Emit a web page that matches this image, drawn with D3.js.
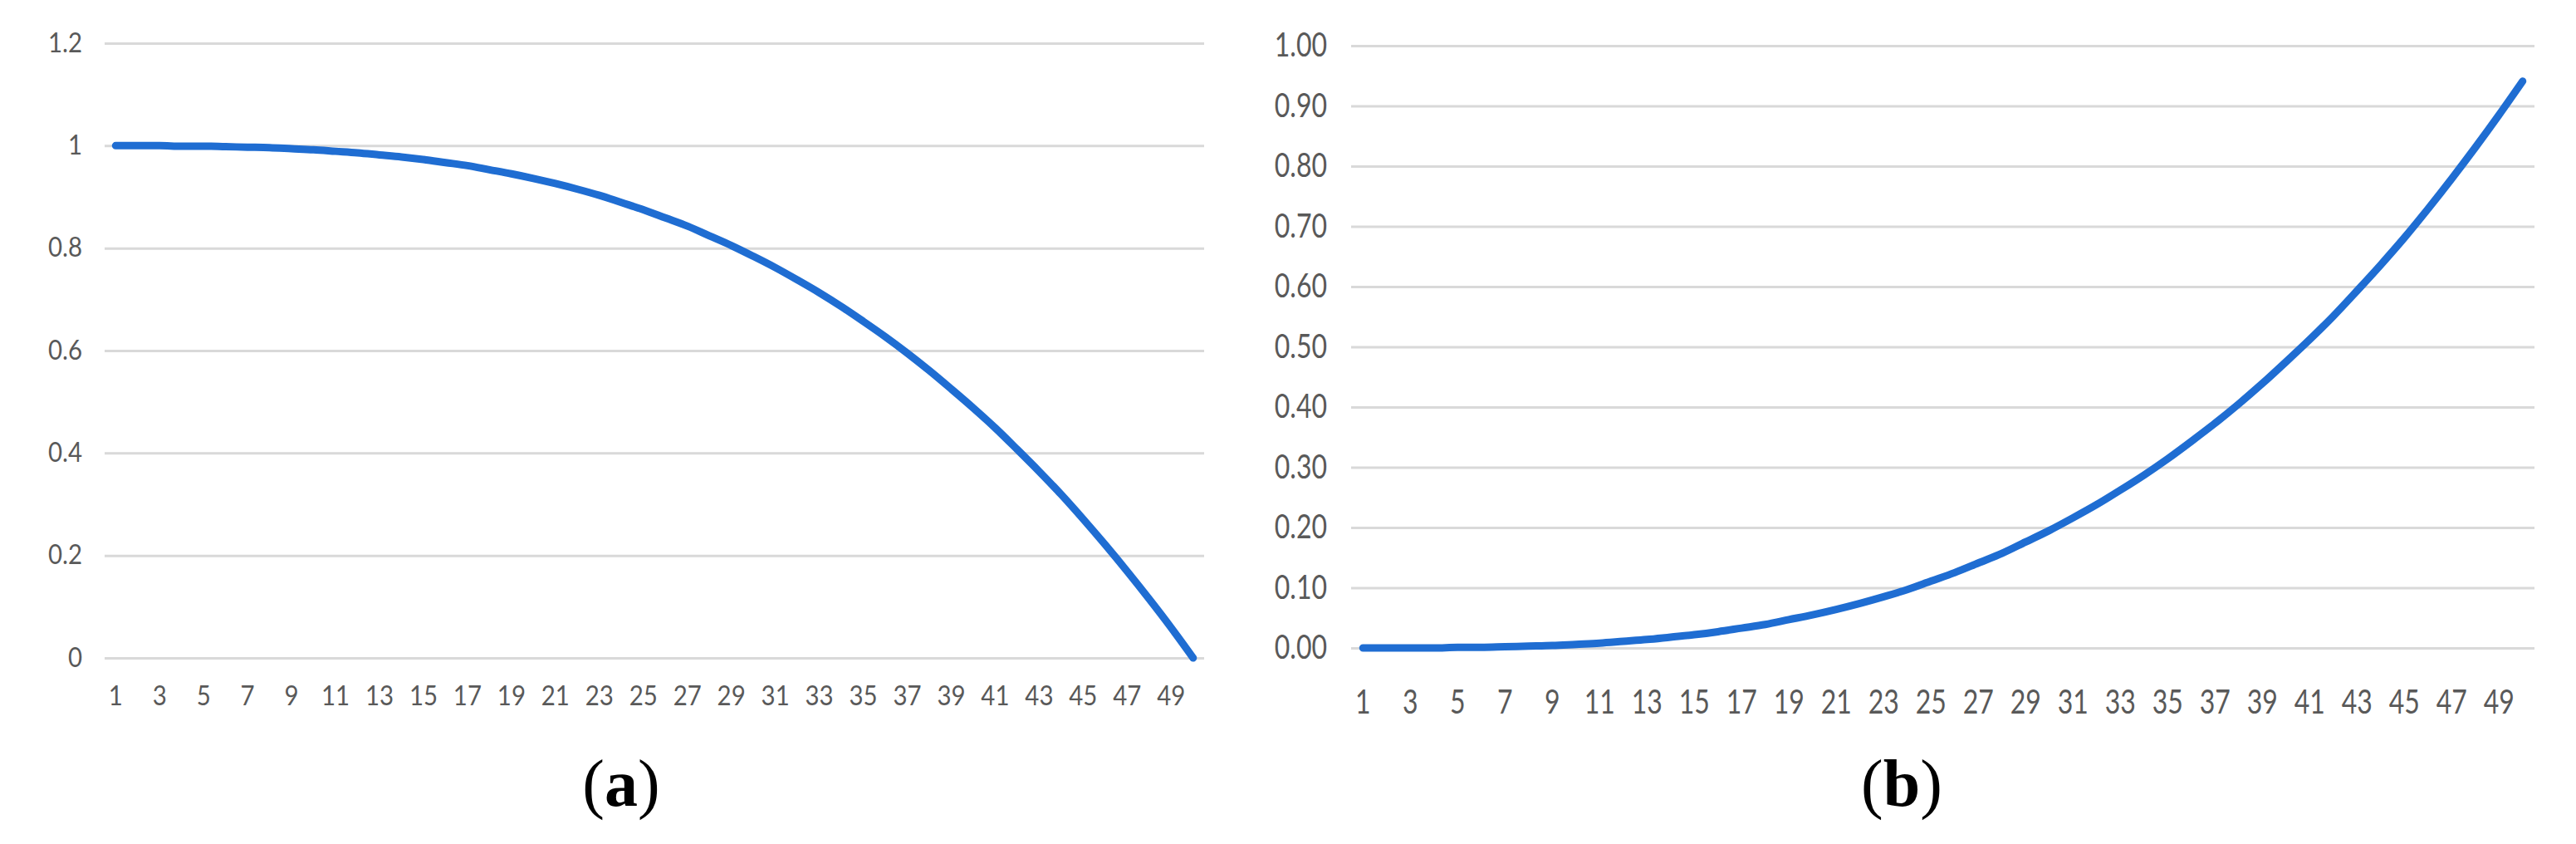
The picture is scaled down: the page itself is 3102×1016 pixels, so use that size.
<!DOCTYPE html>
<html lang="en">

<head>
	<meta charset="utf-8">
	<title>Curves (a) and (b)</title>
	<script src="https://d3js.org/d3.v7.min.js"></script>
	<style>
		body { margin: 0; background: #fff; }
		.tick text { fill: #595959; font-family: Lato, "Open Sans", sans-serif; }
		.grid line { stroke: #d9d9d9; stroke-width: 3; }
	</style>
</head>

<body>

	<svg id="chart" width="3102" height="1016"></svg>

	<script type="text/javascript">
		// categories 1..50 on the x axis
		var categories = [1, 2, 3, 4, 5, 6, 7, 8, 9, 10, 11, 12, 13, 14, 15, 16, 17, 18, 19, 20,
			21, 22, 23, 24, 25, 26, 27, 28, 29, 30, 31, 32, 33, 34, 35, 36, 37, 38, 39, 40,
			41, 42, 43, 44, 45, 46, 47, 48, 49, 50];
		var xTickLabels = [1, 3, 5, 7, 9, 11, 13, 15, 17, 19, 21, 23, 25, 27, 29, 31, 33, 35, 37, 39, 41, 43, 45, 47, 49];

		// (a) falling curve
		var seriesA = [1.000, 1.000, 1.000, 0.999, 0.999, 0.998, 0.997, 0.996, 0.994, 0.992,
			0.989, 0.986, 0.982, 0.978, 0.973, 0.967, 0.961, 0.953, 0.945, 0.936,
			0.926, 0.915, 0.903, 0.889, 0.875, 0.859, 0.843, 0.824, 0.805, 0.784,
			0.762, 0.738, 0.713, 0.686, 0.657, 0.627, 0.595, 0.561, 0.525, 0.488,
			0.449, 0.407, 0.364, 0.319, 0.271, 0.221, 0.169, 0.115, 0.059, 0.000];
		var aYTicks = [0, 0.2, 0.4, 0.6, 0.8, 1, 1.2];
		var aYTickLabels = ["0", "0.2", "0.4", "0.6", "0.8", "1", "1.2"];

		// (b) rising curve
		var seriesB = [0.000, 0.000, 0.000, 0.000, 0.001, 0.001, 0.002, 0.003, 0.004, 0.006,
			0.008, 0.011, 0.014, 0.018, 0.022, 0.027, 0.033, 0.039, 0.047, 0.055,
			0.064, 0.074, 0.085, 0.097, 0.111, 0.125, 0.141, 0.157, 0.176, 0.195,
			0.216, 0.238, 0.262, 0.287, 0.314, 0.343, 0.373, 0.405, 0.439, 0.475,
			0.512, 0.551, 0.593, 0.636, 0.681, 0.729, 0.779, 0.831, 0.885, 0.941];
		var bYTicks = [0, 0.1, 0.2, 0.3, 0.4, 0.5, 0.6, 0.7, 0.8, 0.9, 1.0];
		var bYTickLabels = ["0.00", "0.10", "0.20", "0.30", "0.40", "0.50", "0.60", "0.70", "0.80", "0.90", "1.00"];

		var captions = ["a", "b"];

		var svg = d3.select("#chart");
		svg.append("rect").attr("width", 3102).attr("height", 1016).attr("fill", "white");

		//******************Panels*********************//
		var panels = [
			{ data: seriesA, ticks: aYTicks, labels: aYTickLabels, left: 126, right: 1450, top: 52, bottom: 792,
				yMax: 1.2, pad: 27, xLabelOff: 46, fontSize: 32, squeeze: 0.92, caption: captions[0], capX: 748 },
			{ data: seriesB, ticks: bYTicks, labels: bYTickLabels, left: 1627, right: 3052, top: 55, bottom: 780,
				yMax: 1.0, pad: 29, xLabelOff: 65, fontSize: 40, squeeze: 0.8, caption: captions[1], capX: 2290 }
		];

		panels.forEach(function (p) {
			var x = d3.scaleBand()
				.domain(categories)
				.range([p.left, p.right]);
			var y = d3.scaleLinear()
				.domain([0, p.yMax])
				.range([p.bottom, p.top]);

			// y axis + gridlines
			var yAxis = svg.append("g")
				.attr("class", "grid")
				.attr("transform", "translate(" + p.left + ",0)")
				.call(d3.axisLeft(y)
					.tickValues(p.ticks)
					.tickSize(-(p.right - p.left))
					.tickPadding(p.pad)
					.tickFormat(function (d, i) { return p.labels[i]; }));
			yAxis.select(".domain").remove();
			yAxis.selectAll("text")
				.attr("font-size", p.fontSize)
				.attr("x", -p.pad / p.squeeze)
				.attr("transform", "scale(" + p.squeeze + ",1)");

			// x axis labels (every other category)
			var xAxis = svg.append("g")
				.attr("transform", "translate(0," + p.bottom + ")")
				.call(d3.axisBottom(x)
					.tickValues(xTickLabels)
					.tickSize(0));
			xAxis.select(".domain").remove();
			xAxis.selectAll("text")
				.attr("font-size", p.fontSize)
				.attr("y", p.xLabelOff)
				.attr("dy", "0.35em")
				.attr("transform", "scale(" + p.squeeze + ",1)");

			// the curve
			var line = d3.line()
				.x(function (d, i) { return x(categories[i]) + x.bandwidth() / 2; })
				.y(function (d) { return y(d); })
				.curve(d3.curveMonotoneX);

			svg.append("path")
				.datum(p.data)
				.attr("d", line)
				.attr("fill", "none")
				.attr("stroke", "#1f6dd2")
				.attr("stroke-width", 9)
				.attr("stroke-linecap", "round")
				.attr("stroke-linejoin", "round");

			// caption (a) / (b)
			var cap = svg.append("text")
				.attr("x", p.capX)
				.attr("y", 970)
				.attr("text-anchor", "middle")
				.attr("font-family", "'Liberation Serif', 'Times New Roman', serif")
				.attr("font-size", 80)
				.attr("fill", "black");
			cap.append("tspan").text("(");
			cap.append("tspan").attr("font-weight", "bold").text(p.caption);
			cap.append("tspan").text(")");
		});
	</script>

</body>

</html>
